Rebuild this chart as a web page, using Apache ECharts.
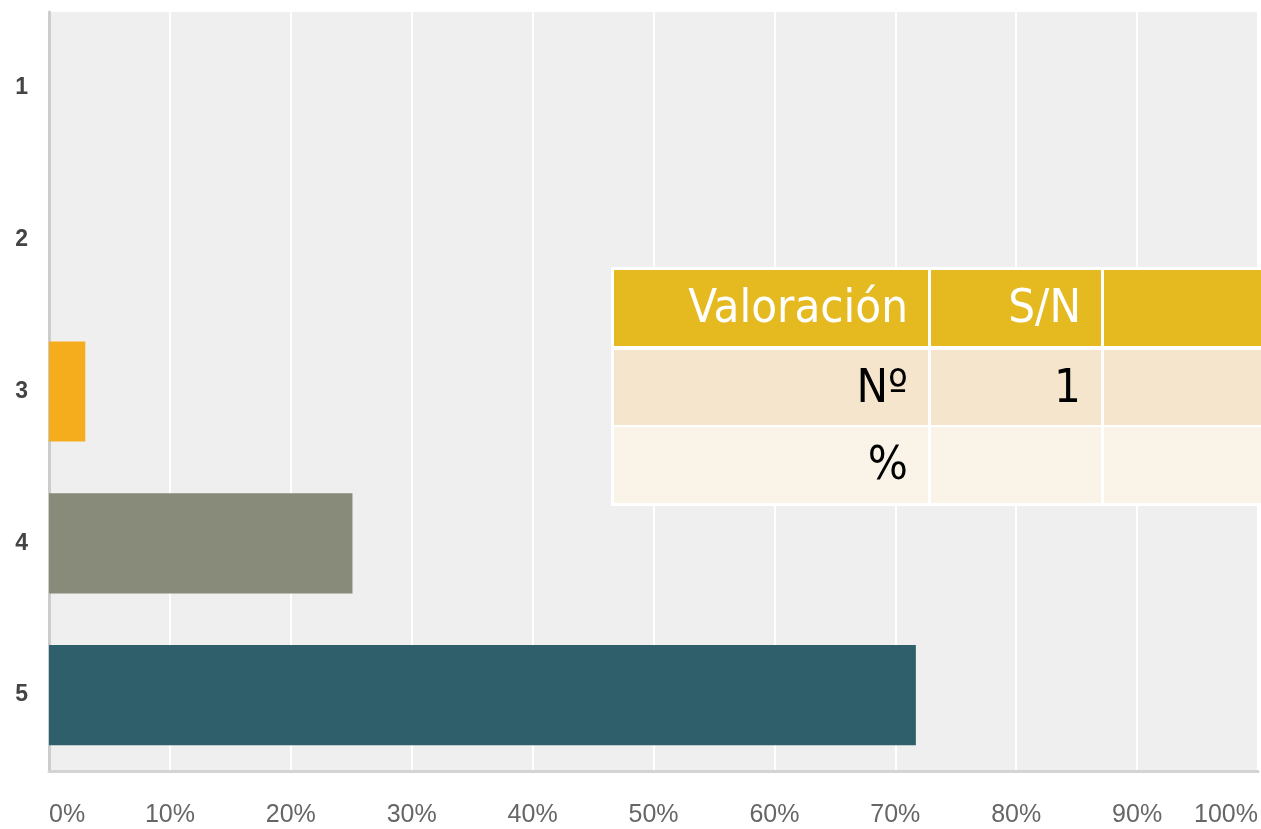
<!DOCTYPE html>
<html>
<head>
<meta charset="utf-8">
<script src="https://cdn.jsdelivr.net/npm/echarts@6/dist/echarts.min.js"></script>
<style>
  html, body { margin: 0; padding: 0; background: #fff; }
  #chart { width: 1261px; height: 829px; }
</style>
</head>
<body>
<div id="chart"></div>
<script>
// data
const categories = ["1", "2", "3", "4", "5"];
const percents = [0, 0, 3, 25.1, 71.7];
const barColors = ["#f5ad1e", "#f5ad1e", "#f5ad1e", "#888a7a", "#2e5f6b"];
const xTicks = [0, 10, 20, 30, 40, 50, 60, 70, 80, 90, 100];

// overlay table
const tableHeader = ["Valoración", "S/N", ""];
const tableRows = [
  ["Nº", "1", ""],
  ["%", "", ""]
];

const chart = echarts.init(document.getElementById("chart"));

// table layout
const colEdges = [614, 929, 1102, 1270];
const rowBoxes = [
  { y: 270, h: 76, fill: "#e5b920", color: "#ffffff" },
  { y: 350, h: 75, fill: "#f5e5cc", color: "#000000" },
  { y: 427, h: 76, fill: "#faf3e8", color: "#000000" }
];
const tableFont = '"DejaVu Sans Condensed", "DejaVu Sans", sans-serif';

const graphic = [{
  type: "rect",
  shape: { x: 611, y: 267, width: 660, height: 239 },
  style: { fill: "#ffffff" },
  z: 10
}];
[tableHeader].concat(tableRows).forEach((row, r) => {
  const box = rowBoxes[r];
  row.forEach((txt, c) => {
    const x0 = colEdges[c] + (c === 0 ? 0 : 2);
    const x1 = colEdges[c + 1] - (c === 2 ? 0 : 1);
    graphic.push({
      type: "rect",
      shape: { x: x0, y: box.y, width: x1 - x0, height: box.h },
      style: { fill: box.fill },
      z: 11
    });
    if (txt) {
      graphic.push({
        type: "text",
        x: colEdges[c + 1] - 21,
        y: box.y + box.h / 2 + 2,
        style: {
          text: txt,
          fill: box.color,
          font: "normal 47px " + tableFont,
          align: "right",
          verticalAlign: "middle"
        },
        z: 12
      });
    }
  });
});

chart.setOption({
  backgroundColor: "#ffffff",
  animation: false,
  grid: {
    left: 49,
    right: 3,
    top: 12,
    bottom: 58,
    show: true,
    backgroundColor: "#efefef",
    borderWidth: 0
  },
  xAxis: {
    type: "value",
    min: 0,
    max: 100,
    interval: 10,
    axisLine: { show: true, lineStyle: { color: "#d4d4d4", width: 3 } },
    axisTick: { show: false },
    splitLine: { show: true, lineStyle: { color: "#ffffff", width: 2 } },
    axisLabel: {
      margin: 32,
      color: "#666666",
      fontFamily: "Liberation Sans, Arial, sans-serif",
      fontSize: 25,
      alignMinLabel: "left",
      alignMaxLabel: "right",
      formatter: (v) => (xTicks.includes(v) ? v + "%" : "")
    }
  },
  yAxis: {
    type: "category",
    data: categories,
    inverse: true,
    axisLine: { show: true, lineStyle: { color: "#cccccc", width: 3 } },
    axisTick: { show: false },
    axisLabel: {
      margin: 21,
      color: "#444444",
      fontWeight: "bold",
      fontFamily: "Liberation Sans, Arial, sans-serif",
      fontSize: 23
    }
  },
  series: [{
    type: "bar",
    barWidth: "66%",
    data: percents.map((v, i) => ({ value: v, itemStyle: { color: barColors[i] } })),
    itemStyle: { borderWidth: 0 }
  }],
  graphic: graphic
});
</script>
</body>
</html>
